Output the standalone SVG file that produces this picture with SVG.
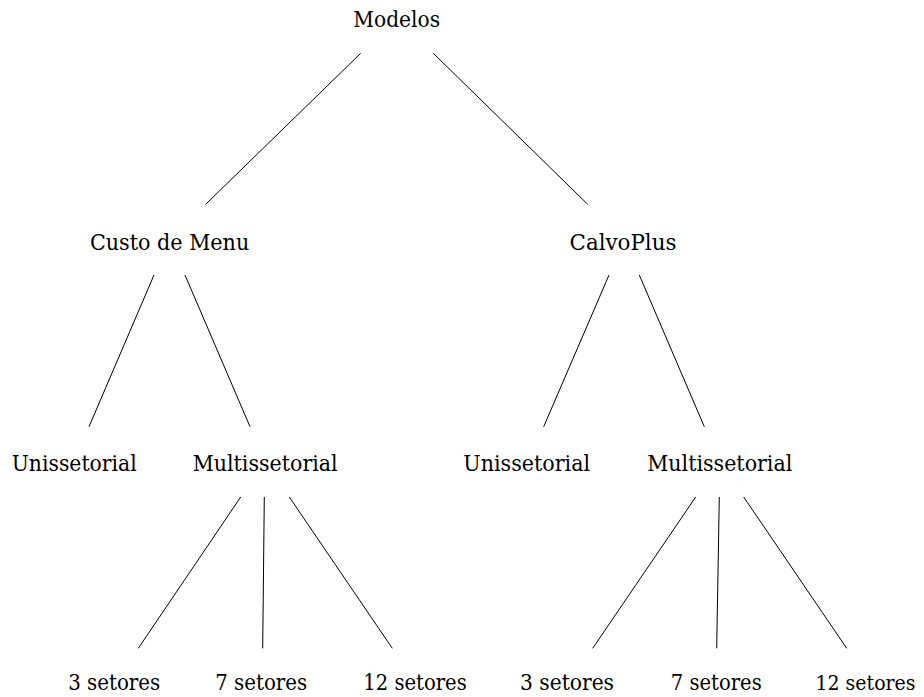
<svg xmlns="http://www.w3.org/2000/svg" width="924" height="697" viewBox="0 0 924 697">
<style>
.t{font-family:"DejaVu Serif","Liberation Serif",serif;font-size:21.5px;fill:#000;text-anchor:middle}
.e line{stroke:#000;stroke-width:1;fill:none}
</style>
<rect width="924" height="697" fill="#fff"/>
<g class="e" id="connectors">
<line x1="360.7" y1="53.3" x2="205.7" y2="204.3"/>
<line x1="433.3" y1="53.3" x2="587.7" y2="204.3"/>
<line x1="154" y1="275" x2="89" y2="426.7"/>
<line x1="185" y1="275" x2="250" y2="426.7"/>
<line x1="609" y1="275" x2="543.7" y2="426.7"/>
<line x1="639.3" y1="275" x2="704.3" y2="426.7"/>
<line x1="240.7" y1="497" x2="138.3" y2="648.3"/>
<line x1="264.3" y1="497" x2="262.7" y2="648.3"/>
<line x1="289.3" y1="497" x2="392.3" y2="648.3"/>
<line x1="695.7" y1="497" x2="592.7" y2="648.3"/>
<line x1="719.3" y1="497" x2="716.7" y2="648.3"/>
<line x1="743.7" y1="497" x2="846.7" y2="648.3"/>
</g>
<g id="modelos"><text class="t" x="396.7" y="26.7" textLength="86.7" lengthAdjust="spacingAndGlyphs">Modelos</text></g>
<g id="custo"><text class="t" x="169.6" y="250" textLength="159.3" lengthAdjust="spacingAndGlyphs">Custo de Menu</text></g>
<g id="calvoplus"><text class="t" x="623" y="250" textLength="107" lengthAdjust="spacingAndGlyphs">CalvoPlus</text></g>
<g id="uni1"><text class="t" x="74.2" y="470.5" textLength="125" lengthAdjust="spacingAndGlyphs">Unissetorial</text></g>
<g id="multi1"><text class="t" x="265.2" y="470.5" textLength="145" lengthAdjust="spacingAndGlyphs">Multissetorial</text></g>
<g id="uni2"><text class="t" x="526.7" y="470.5" textLength="126.7" lengthAdjust="spacingAndGlyphs">Unissetorial</text></g>
<g id="multi2"><text class="t" x="719.8" y="470.5" textLength="145" lengthAdjust="spacingAndGlyphs">Multissetorial</text></g>
<g id="s3a"><text class="t" x="114.2" y="690" textLength="92" lengthAdjust="spacingAndGlyphs">3 setores</text></g>
<g id="s7a"><text class="t" x="261.2" y="690" textLength="92" lengthAdjust="spacingAndGlyphs">7 setores</text></g>
<g id="s12a"><text class="t" x="415" y="690" textLength="103.4" lengthAdjust="spacingAndGlyphs">12 setores</text></g>
<g id="s3b"><text class="t" x="567" y="690" textLength="94" lengthAdjust="spacingAndGlyphs">3 setores</text></g>
<g id="s7b"><text class="t" x="716.2" y="690" textLength="91" lengthAdjust="spacingAndGlyphs">7 setores</text></g>
<g id="s12b"><text class="t" x="865.5" y="690" style="font-size:20px" textLength="100" lengthAdjust="spacingAndGlyphs">12 setores</text></g>
</svg>
